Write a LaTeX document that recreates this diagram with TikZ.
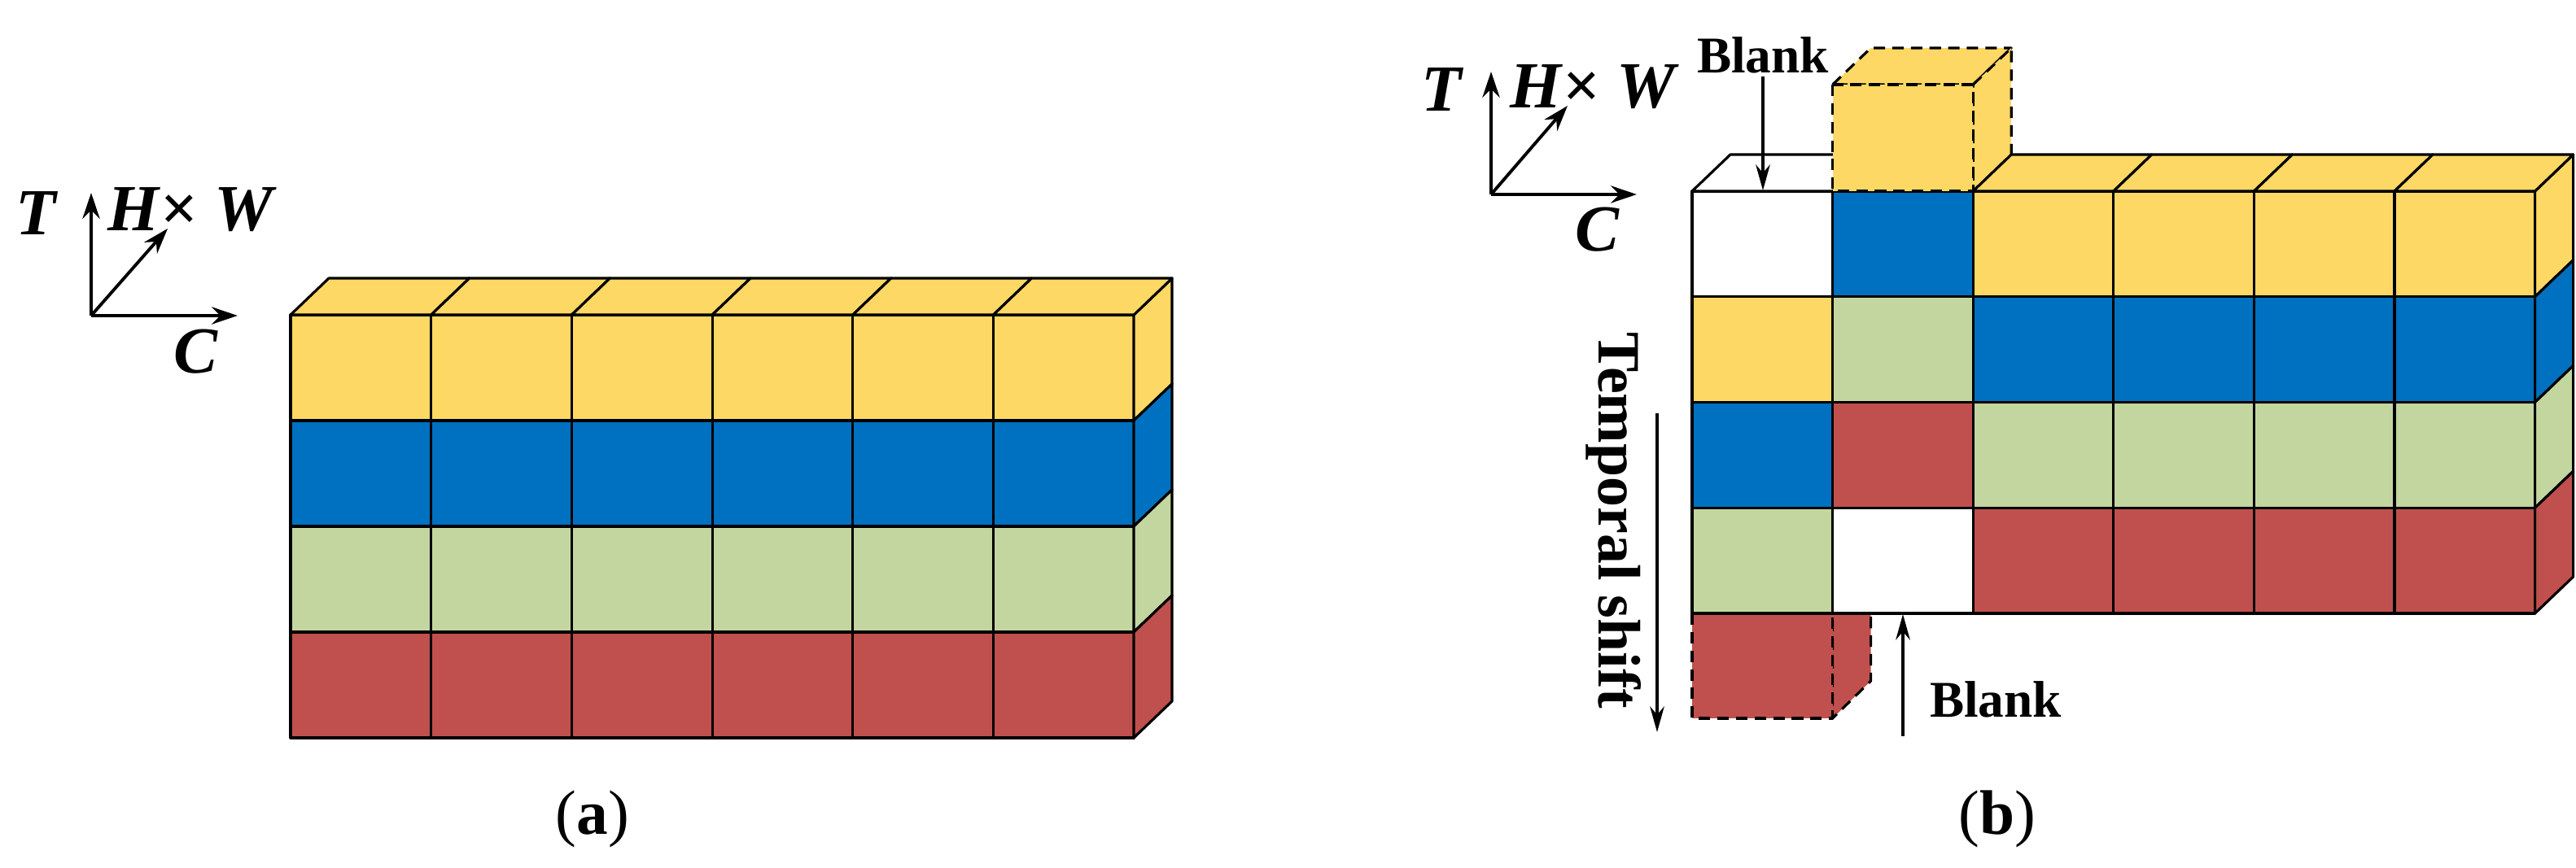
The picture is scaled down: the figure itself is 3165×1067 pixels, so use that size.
\documentclass[tikz,border=0pt]{standalone}
\usepackage{fontspec}
\setmainfont{Liberation Serif}
\usetikzlibrary{arrows.meta}
\definecolor{cy}{HTML}{FDD865}
\definecolor{cb}{HTML}{0070C0}
\definecolor{cg}{HTML}{C4D6A0}
\definecolor{cr}{HTML}{C0504D}
\begin{document}
\begin{tikzpicture}[x=0.01cm,y=-0.01cm,line join=round,
  cell/.style={draw=black,line width=0.9pt},
  dcell/.style={draw=black,line width=0.9pt,dash pattern=on 4pt off 2.5pt},
  ax/.style={line width=1.3pt,-{Stealth[length=9pt,width=6pt]}},
  ar/.style={line width=1pt,-{Stealth[length=9pt,width=5pt]}},
  lab/.style={font=\bfseries\itshape\fontsize{23}{25}\selectfont,inner sep=0pt},
  bl/.style={font=\bfseries\fontsize{18}{20}\selectfont,inner sep=0pt},
  captxt/.style={font=\fontsize{22}{24}\selectfont,inner sep=0pt}]
\useasboundingbox (0,0) rectangle (3165,1067);
\def\dx{47}\def\dy{45}
% ---------- (a)
\def\cw{172.7}
\foreach \r/\col in {0/cy,1/cb,2/cg,3/cr}{
  \foreach \c in {0,...,5}{
    \fill[\col] ({357+\c*\cw},{387+\r*130}) rectangle ++(\cw,130);
    \draw[cell] ({357+\c*\cw},{387+\r*130}) rectangle ++(\cw,130);
  }
  \filldraw[cell,fill=\col] (1393,{387+\r*130}) -- ++(\dx,-\dy) -- ++(0,130) -- ++(-\dx,\dy) -- cycle;
}
\foreach \c in {0,...,5}
  \filldraw[cell,fill=cy] ({357+\c*\cw},387) -- ++(\dx,-\dy) -- ++(\cw,0) -- ++(-\dx,\dy) -- cycle;
% axes (a)
\coordinate (oa) at (112,388);
\coordinate (ta) at (112,237);
\coordinate (ca) at (292,388);
\coordinate (ha) at (206,281);
\draw[ax] (oa) -- (ta);
\draw[ax] (oa) -- (ca);
\draw[ax,line width=1.1pt] (oa) -- (ha);
\node[lab] (Ta) at (44,262) {T};
\node[lab] (HWa) at (234,258) {H\kern0.5pt\textnormal{\bfseries\upshape×} W};
\node[lab] (Ca) at (240,432) {C};
\node[captxt] (capa) at (728,1007) {(\textbf{a})};
% ---------- (b)
\def\X{2079}\def\Y{235}\def\cw{172.6}
% dashed red cube below
\filldraw[dcell,fill=cr] (\X+\cw,754) -- ++(\dx,-\dy) -- (\X+\cw+\dx,837) -- (\X+\cw,883) -- cycle;
\filldraw[dcell,fill=cr] (\X,754) rectangle (\X+\cw,883);
% block
\foreach \r/\a/\b/\d in {0/white/cb/cy,1/cy/cg/cb,2/cb/cr/cg,3/cg/white/cr}{
  \filldraw[cell,fill=\a] (\X,{\Y+\r*129.75}) rectangle ++(\cw,129.75);
  \filldraw[cell,fill=\b] (\X+\cw,{\Y+\r*129.75}) rectangle ++(\cw,129.75);
  \foreach \c in {2,...,5}
    \filldraw[cell,fill=\d] ({\X+\c*\cw},{\Y+\r*129.75}) rectangle ++(\cw,129.75);
  \filldraw[cell,fill=\d] (\X+6*\cw,{\Y+\r*129.75}) -- ++(\dx,-\dy) -- ++(0,129.75) -- ++(-\dx,\dy) -- cycle;
}
\filldraw[cell,fill=white] (\X,\Y) -- ++(\dx,-\dy) -- ++(\cw,0) -- ++(-\dx,\dy) -- cycle;
% dashed yellow cube above
\filldraw[dcell,fill=cy] (\X+\cw,104) -- ++(\dx,-\dy) -- ++(\cw,0) -- ++(-\dx,\dy) -- cycle;
\filldraw[dcell,fill=cy] (\X+2*\cw,104) -- ++(\dx,-\dy) -- (\X+2*\cw+\dx,190) -- (\X+2*\cw,235) -- cycle;
\filldraw[dcell,fill=cy] (\X+\cw,104) rectangle (\X+2*\cw,235);
\foreach \c in {2,...,5}
  \filldraw[cell,fill=cy] ({\X+\c*\cw},\Y) -- ++(\dx,-\dy) -- ++(\cw,0) -- ++(-\dx,\dy) -- cycle;
% axes (b)
\coordinate (ob) at (1832,239);
\coordinate (tb) at (1832,88);
\coordinate (cxb) at (2011,239);
\coordinate (hb) at (1926,130);
\draw[ax] (ob) -- (tb);
\draw[ax] (ob) -- (cxb);
\draw[ax,line width=1.1pt] (ob) -- (hb);
\node[lab] (Tb) at (1771,110) {T};
\node[lab] (HWb) at (1957,107) {H\kern0.5pt\textnormal{\bfseries\upshape×} W};
\node[lab] (Cb) at (1962,282) {C};
% blanks
\node[bl] (b1) at (2166,68) {Blank};
\coordinate (b1s) at (2166,94);
\coordinate (b1e) at (2166,234);
\draw[ar] (b1s) -- (b1e);
\node[bl] (b2) at (2452,860) {Blank};
\coordinate (b2s) at (2338,905);
\coordinate (b2e) at (2338,755);
\draw[ar] (b2s) -- (b2e);
% temporal shift
\node[bl,rotate=-90,font=\bfseries\fontsize{21}{23}\selectfont] (ts) at (1983,640) {Temporal shift};
\coordinate (tss) at (2036,508);
\coordinate (tse) at (2036,900);
\draw[ar] (tss) -- (tse);
\node[captxt] (capb) at (2454,1007) {(\textbf{b})};
\end{tikzpicture}
\end{document}
